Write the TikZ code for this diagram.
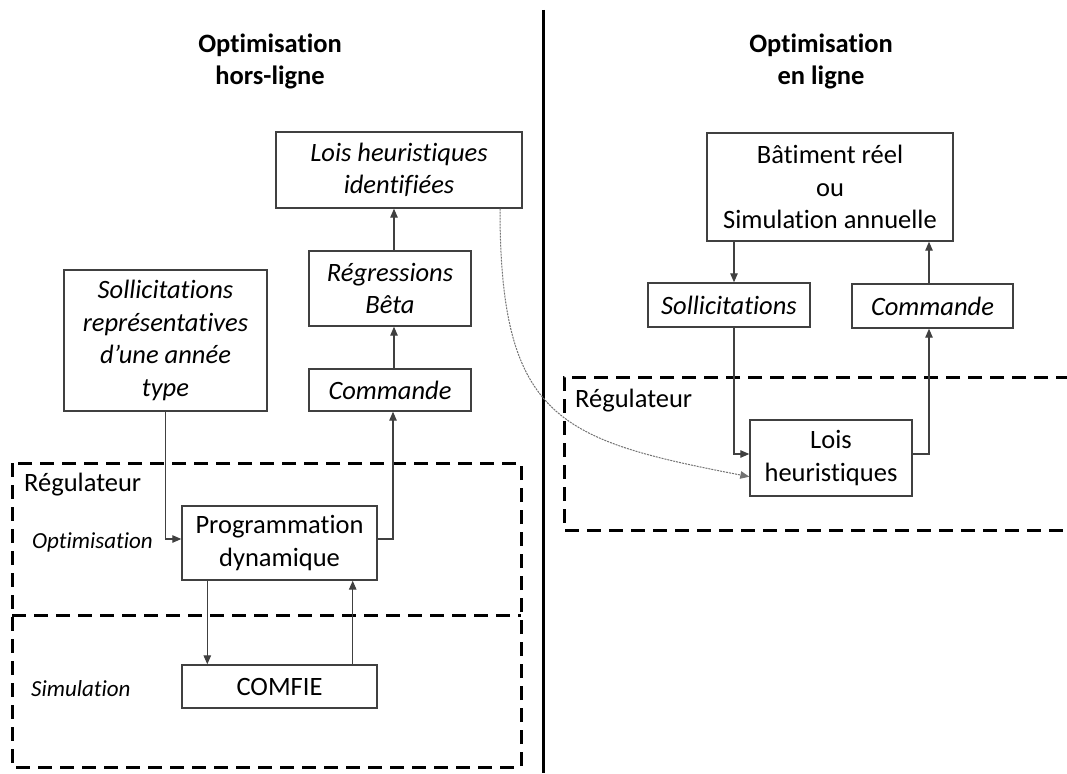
\documentclass[tikz,border=0pt]{standalone}
\usepackage{fontspec}
\setmainfont{Carlito}[Ligatures=NoCommon]
\usetikzlibrary{arrows.meta,calc}
\tikzset{
  box/.style={draw=black!75, line width=1.4pt, inner sep=0pt, align=center, font=\fontsize{26.5}{32.5}\selectfont},
  ibox/.style={box, font=\fontsize{26.5}{32.5}\selectfont\itshape},
  arr/.style={draw=black!75, line width=1.2pt, -{Triangle[length=9pt,width=7.5pt]}},
  dline/.style={draw=black, line width=3pt, dash pattern=on 14pt off 8pt},
  lbl/.style={inner sep=0pt, font=\fontsize{26.5}{32.5}\selectfont},
  side/.style={inner sep=0pt, font=\fontsize{23}{28}\selectfont\itshape},
  ttl/.style={inner sep=0pt, align=center, font=\fontsize{26.5}{32}\selectfont\bfseries},
  dotarr/.style={draw=black!55, line width=1pt, dash pattern=on 2pt off 1pt, -{Triangle[length=9pt,width=7.5pt]}}
}
\begin{document}
\begin{tikzpicture}[x=1pt,y=-1pt]
\useasboundingbox (0,0) rectangle (1067,773);
% divider
\draw[line width=3pt] (543,10) -- (543,773);
% titles
\node[ttl] (t1) at (270,61) {Optimisation\\hors-ligne};
\node[ttl] (t2) at (821,61) {Optimisation\\en ligne};
% left boxes
\node[ibox, minimum width=246pt, minimum height=76pt] (lhi) at (399,170) {Lois heuristiques\\identifiées};
\node[ibox, minimum width=162pt, minimum height=75pt] (reg) at (390,288.5) {Régressions\\Bêta};
\node[ibox, minimum width=162pt, minimum height=42pt] (cmdL) at (390,390) {Commande};
\node[ibox, minimum width=203pt, minimum height=141pt] (sol) at (165.5,340.5) {Sollicitations\\représentatives\\d’une année\\type};
\node[box, minimum width=195pt, minimum height=74pt] (prog) at (279.5,543) {Programmation\\dynamique};
\node[box, minimum width=195pt, minimum height=43pt] (comfie) at (279.5,686.5) {COMFIE};
% left dashed regulator
\draw[dline] (12,463) rectangle (521,767);
\draw[dline] (12,615) -- (521,615);
\node[lbl, anchor=base west] (reg1) at (24,491) {Régulateur};
\node[side, anchor=base west] (optl) at (32,548) {Optimisation};
\node[side, anchor=base west] (siml) at (31,696) {Simulation};
% right boxes
\node[box, minimum width=246pt, minimum height=108pt] (bat) at (830,187) {Bâtiment réel\\ou\\Simulation annuelle};
\node[ibox, minimum width=162pt, minimum height=44pt] (solR) at (729,305) {Sollicitations};
\node[ibox, minimum width=161pt, minimum height=44pt] (cmdR) at (932.5,306) {Commande};
\node[box, minimum width=162pt, minimum height=76pt] (lh) at (831,458) {Lois\\heuristiques};
% right dashed regulator
\draw[dline] (1070,377) -- (564,377) -- (564,530) -- (1070,530);
\node[lbl, anchor=base west] (reg2) at (575,407) {Régulateur};
% helper coordinates
\coordinate (r1) at ([xshift=4pt]reg.north);
\coordinate (p1) at ([xshift=26pt]prog.south west);
\coordinate (c1) at ([xshift=-25pt]comfie.north east);
\coordinate (b1) at ([xshift=5pt]solR.north);
\coordinate (k1) at ([xshift=-3.5pt]cmdR.north);
\coordinate (d0) at ([xshift=101pt]lhi.south);
\coordinate (d1) at ([yshift=20pt]lh.south west);
% left arrows
\draw[arr] (sol.south) |- ([yshift=4pt]prog.west);
\draw[arr] ([yshift=4pt]prog.east) -| ([xshift=3pt]cmdL.south);
\draw[arr] ([xshift=4pt]cmdL.north) -- ([xshift=4pt]reg.south);
\draw[arr] (r1) -- (r1 |- lhi.south);
\draw[arr] (p1) -- (p1 |- comfie.north);
\draw[arr] (c1) -- (c1 |- prog.south);
% right arrows
\draw[arr] (b1 |- bat.south) -- (b1);
\draw[arr] ([xshift=5pt]solR.south) |- ([yshift=4pt]lh.west);
\draw[arr] ([yshift=4pt]lh.east) -| ([xshift=-3.5pt]cmdR.south);
\draw[arr] (k1) -- (k1 |- bat.south);
% dotted link
\draw[dotarr] (d0) .. controls (500,420) and (560,440) .. (d1);
\end{tikzpicture}
\end{document}
